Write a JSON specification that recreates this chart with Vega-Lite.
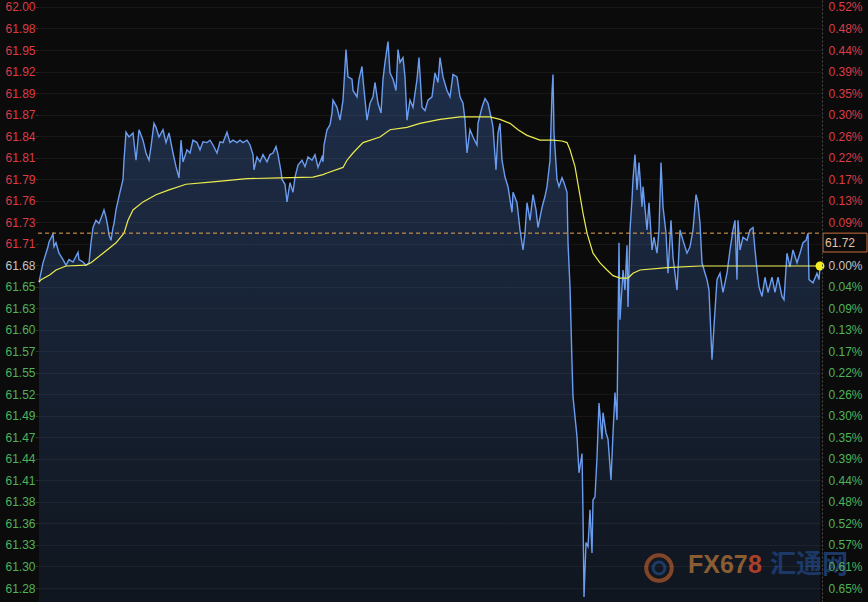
{
  "$schema": "https://vega.github.io/schema/vega-lite/v6.json",
  "width": 784,
  "height": 602,
  "autosize": {"type": "none"},
  "padding": {"left": 38, "right": 46, "top": 0, "bottom": 0},
  "background": "#0b0b0c",
  "config": {"view": {"stroke": null}, "font": "Liberation Sans"},
  "datasets": {
    "one": [{}],
    "price": [
      {"t":1,"p":61.659},{"t":5,"p":61.683},{"t":6,"p":61.687},{"t":10,"p":61.703},{"t":11,"p":61.709},{"t":15,"p":61.719},{"t":16,"p":61.703},{"t":18,"p":61.708},{"t":21,"p":61.695},{"t":25,"p":61.687},{"t":28,"p":61.680},{"t":31,"p":61.687},{"t":35,"p":61.684},{"t":40,"p":61.696},{"t":41,"p":61.687},{"t":45,"p":61.684},{"t":48,"p":61.680},{"t":51,"p":61.683},{"t":53,"p":61.708},{"t":55,"p":61.727},{"t":58,"p":61.736},{"t":61,"p":61.732},{"t":65,"p":61.745},{"t":66,"p":61.749},{"t":68,"p":61.740},{"t":70,"p":61.727},{"t":71,"p":61.718},{"t":73,"p":61.711},{"t":75,"p":61.727},{"t":76,"p":61.732},{"t":78,"p":61.749},{"t":81,"p":61.766},{"t":85,"p":61.787},{"t":86,"p":61.811},{"t":88,"p":61.846},{"t":91,"p":61.840},{"t":95,"p":61.845},{"t":98,"p":61.811},{"t":101,"p":61.849},{"t":105,"p":61.836},{"t":108,"p":61.820},{"t":111,"p":61.811},{"t":113,"p":61.828},{"t":116,"p":61.857},{"t":118,"p":61.852},{"t":121,"p":61.840},{"t":125,"p":61.849},{"t":128,"p":61.833},{"t":131,"p":61.845},{"t":135,"p":61.820},{"t":138,"p":61.803},{"t":141,"p":61.789},{"t":143,"p":61.836},{"t":145,"p":61.809},{"t":149,"p":61.824},{"t":152,"p":61.820},{"t":155,"p":61.836},{"t":159,"p":61.833},{"t":162,"p":61.824},{"t":165,"p":61.834},{"t":169,"p":61.833},{"t":172,"p":61.836},{"t":175,"p":61.830},{"t":179,"p":61.820},{"t":182,"p":61.834},{"t":185,"p":61.833},{"t":189,"p":61.846},{"t":192,"p":61.833},{"t":195,"p":61.836},{"t":199,"p":61.833},{"t":202,"p":61.836},{"t":205,"p":61.833},{"t":209,"p":61.836},{"t":212,"p":61.830},{"t":215,"p":61.818},{"t":216,"p":61.799},{"t":219,"p":61.815},{"t":222,"p":61.809},{"t":225,"p":61.818},{"t":229,"p":61.809},{"t":232,"p":61.818},{"t":235,"p":61.820},{"t":238,"p":61.828},{"t":240,"p":61.818},{"t":243,"p":61.797},{"t":244,"p":61.787},{"t":247,"p":61.781},{"t":249,"p":61.759},{"t":252,"p":61.783},{"t":255,"p":61.771},{"t":257,"p":61.790},{"t":260,"p":61.805},{"t":264,"p":61.811},{"t":267,"p":61.803},{"t":270,"p":61.815},{"t":274,"p":61.811},{"t":277,"p":61.818},{"t":280,"p":61.802},{"t":284,"p":61.815},{"t":285,"p":61.809},{"t":286,"p":61.830},{"t":289,"p":61.849},{"t":292,"p":61.855},{"t":294,"p":61.870},{"t":295,"p":61.886},{"t":299,"p":61.877},{"t":302,"p":61.861},{"t":305,"p":61.886},{"t":308,"p":61.949},{"t":310,"p":61.915},{"t":314,"p":61.912},{"t":315,"p":61.898},{"t":319,"p":61.890},{"t":321,"p":61.912},{"t":324,"p":61.928},{"t":325,"p":61.912},{"t":329,"p":61.861},{"t":332,"p":61.882},{"t":335,"p":61.890},{"t":337,"p":61.908},{"t":340,"p":61.882},{"t":343,"p":61.870},{"t":345,"p":61.912},{"t":347,"p":61.933},{"t":350,"p":61.959},{"t":352,"p":61.920},{"t":355,"p":61.912},{"t":358,"p":61.898},{"t":360,"p":61.949},{"t":362,"p":61.933},{"t":365,"p":61.939},{"t":367,"p":61.915},{"t":369,"p":61.861},{"t":372,"p":61.886},{"t":375,"p":61.877},{"t":379,"p":61.912},{"t":381,"p":61.939},{"t":384,"p":61.877},{"t":387,"p":61.873},{"t":390,"p":61.886},{"t":394,"p":61.890},{"t":397,"p":61.920},{"t":400,"p":61.908},{"t":402,"p":61.939},{"t":405,"p":61.915},{"t":409,"p":61.898},{"t":412,"p":61.890},{"t":415,"p":61.918},{"t":419,"p":61.915},{"t":422,"p":61.890},{"t":425,"p":61.882},{"t":427,"p":61.861},{"t":429,"p":61.820},{"t":432,"p":61.849},{"t":435,"p":61.840},{"t":439,"p":61.830},{"t":440,"p":61.857},{"t":444,"p":61.877},{"t":447,"p":61.888},{"t":450,"p":61.882},{"t":454,"p":61.859},{"t":455,"p":61.852},{"t":458,"p":61.799},{"t":460,"p":61.845},{"t":462,"p":61.857},{"t":464,"p":61.811},{"t":467,"p":61.790},{"t":470,"p":61.778},{"t":474,"p":61.746},{"t":475,"p":61.771},{"t":479,"p":61.758},{"t":482,"p":61.724},{"t":485,"p":61.699},{"t":487,"p":61.720},{"t":489,"p":61.758},{"t":492,"p":61.736},{"t":495,"p":61.768},{"t":498,"p":61.749},{"t":500,"p":61.727},{"t":504,"p":61.752},{"t":507,"p":61.766},{"t":509,"p":61.778},{"t":512,"p":61.811},{"t":514,"p":61.895},{"t":515,"p":61.918},{"t":516,"p":61.845},{"t":519,"p":61.787},{"t":521,"p":61.778},{"t":524,"p":61.789},{"t":526,"p":61.783},{"t":529,"p":61.771},{"t":530,"p":61.708},{"t":532,"p":61.653},{"t":534,"p":61.558},{"t":535,"p":61.516},{"t":539,"p":61.466},{"t":541,"p":61.421},{"t":544,"p":61.445},{"t":545,"p":61.371},{"t":546,"p":61.266},{"t":548,"p":61.334},{"t":550,"p":61.329},{"t":552,"p":61.375},{"t":554,"p":61.321},{"t":555,"p":61.387},{"t":557,"p":61.391},{"t":559,"p":61.440},{"t":561,"p":61.508},{"t":564,"p":61.463},{"t":565,"p":61.496},{"t":568,"p":61.471},{"t":570,"p":61.463},{"t":573,"p":61.412},{"t":575,"p":61.470},{"t":577,"p":61.521},{"t":579,"p":61.487},{"t":580,"p":61.600},{"t":581,"p":61.708},{"t":582,"p":61.612},{"t":584,"p":61.653},{"t":585,"p":61.674},{"t":587,"p":61.649},{"t":589,"p":61.705},{"t":590,"p":61.628},{"t":592,"p":61.724},{"t":594,"p":61.762},{"t":595,"p":61.787},{"t":597,"p":61.818},{"t":599,"p":61.774},{"t":601,"p":61.808},{"t":604,"p":61.753},{"t":605,"p":61.778},{"t":609,"p":61.724},{"t":611,"p":61.758},{"t":614,"p":61.699},{"t":616,"p":61.715},{"t":619,"p":61.695},{"t":621,"p":61.724},{"t":623,"p":61.808},{"t":625,"p":61.753},{"t":628,"p":61.720},{"t":630,"p":61.670},{"t":633,"p":61.736},{"t":635,"p":61.690},{"t":639,"p":61.649},{"t":642,"p":61.724},{"t":645,"p":61.711},{"t":649,"p":61.695},{"t":652,"p":61.703},{"t":655,"p":61.724},{"t":658,"p":61.768},{"t":660,"p":61.758},{"t":662,"p":61.732},{"t":664,"p":61.683},{"t":667,"p":61.670},{"t":669,"p":61.662},{"t":671,"p":61.649},{"t":674,"p":61.562},{"t":676,"p":61.604},{"t":679,"p":61.662},{"t":682,"p":61.670},{"t":685,"p":61.646},{"t":689,"p":61.670},{"t":692,"p":61.699},{"t":695,"p":61.724},{"t":697,"p":61.736},{"t":699,"p":61.662},{"t":700,"p":61.736},{"t":702,"p":61.699},{"t":705,"p":61.715},{"t":709,"p":61.711},{"t":712,"p":61.724},{"t":715,"p":61.727},{"t":717,"p":61.699},{"t":719,"p":61.674},{"t":721,"p":61.653},{"t":724,"p":61.641},{"t":727,"p":61.665},{"t":730,"p":61.646},{"t":734,"p":61.665},{"t":737,"p":61.646},{"t":740,"p":61.665},{"t":744,"p":61.641},{"t":746,"p":61.637},{"t":749,"p":61.695},{"t":752,"p":61.678},{"t":755,"p":61.699},{"t":759,"p":61.683},{"t":762,"p":61.695},{"t":765,"p":61.708},{"t":768,"p":61.711},{"t":770,"p":61.720},{"t":771,"p":61.662},{"t":775,"p":61.658},{"t":779,"p":61.670},{"t":781,"p":61.662},{"t":782,"p":61.677}
    ],
    "avg": [
      {"t":1,"p":61.659},{"t":3,"p":61.662},{"t":12,"p":61.668},{"t":18,"p":61.674},{"t":28,"p":61.679},{"t":48,"p":61.680},{"t":53,"p":61.683},{"t":65,"p":61.695},{"t":78,"p":61.708},{"t":86,"p":61.720},{"t":90,"p":61.736},{"t":95,"p":61.749},{"t":105,"p":61.759},{"t":118,"p":61.768},{"t":131,"p":61.774},{"t":148,"p":61.781},{"t":175,"p":61.784},{"t":209,"p":61.788},{"t":242,"p":61.789},{"t":275,"p":61.790},{"t":285,"p":61.793},{"t":289,"p":61.795},{"t":305,"p":61.802},{"t":309,"p":61.811},{"t":315,"p":61.820},{"t":325,"p":61.833},{"t":342,"p":61.840},{"t":352,"p":61.849},{"t":369,"p":61.852},{"t":382,"p":61.857},{"t":402,"p":61.862},{"t":422,"p":61.865},{"t":452,"p":61.865},{"t":462,"p":61.862},{"t":472,"p":61.857},{"t":480,"p":61.849},{"t":489,"p":61.842},{"t":502,"p":61.836},{"t":515,"p":61.836},{"t":524,"p":61.835},{"t":529,"p":61.833},{"t":532,"p":61.824},{"t":537,"p":61.803},{"t":541,"p":61.774},{"t":545,"p":61.745},{"t":549,"p":61.720},{"t":555,"p":61.695},{"t":562,"p":61.683},{"t":569,"p":61.674},{"t":575,"p":61.667},{"t":582,"p":61.664},{"t":590,"p":61.664},{"t":595,"p":61.670},{"t":602,"p":61.674},{"t":629,"p":61.677},{"t":662,"p":61.679},{"t":722,"p":61.679},{"t":782,"p":61.679}
    ]
  },
  "layer": [
    {
      "data": {"name": "price"},
      "mark": {"type": "area", "fill": {"gradient": "linear", "x1": 0, "y1": 0, "x2": 0, "y2": 1, "stops": [{"offset": 0, "color": "#1f2f4b"}, {"offset": 1, "color": "#10161f"}]}},
      "encoding": {
        "x": {"field": "t", "type": "quantitative", "scale": {"domain": [0, 784], "nice": false, "zero": false},
              "axis": {"values": [102, 205, 307, 409, 512, 615, 717], "grid": true, "gridColor": "#ffffff", "gridOpacity": 0.05, "labels": false, "ticks": false, "domain": false, "title": null, "zindex": 1}},
        "y": {"field": "p", "type": "quantitative", "scale": {"domain": [61.2598, 62.0109], "nice": false, "zero": false},
              "axis": {"orient": "left", "title": null,
                "values": [62.0022, 61.97535, 61.9485, 61.92165, 61.8948, 61.86795, 61.8411, 61.81425, 61.7874, 61.76055, 61.7337, 61.70685, 61.68, 61.65315, 61.6263, 61.59945, 61.5726, 61.54575, 61.5189, 61.49205, 61.4652, 61.43835, 61.4115, 61.38465, 61.3578, 61.33095, 61.3041, 61.27725],
                "format": ".2f",
                "labelColor": {"condition": [{"test": "datum.value > 61.69", "value": "#dc3c46"}, {"test": "datum.value < 61.67", "value": "#4fb35a"}], "value": "#c4c4c4"},
                "labelFont": "Liberation Sans", "labelFontSize": 12, "labelPadding": 0, "labelAlign": "right", "labelBaseline": "middle",
                "tickSize": 3, "tickColor": "#2a2d33", "domain": false,
                "grid": true, "gridColor": "#ffffff", "gridOpacity": 0.05,
                "labelOverlap": false, "labelFlush": false, "labelBound": false, "zindex": 1}},
        "y2": {"datum": 61.2598}
      }
    },
    {
      "data": {"name": "price"},
      "mark": {"type": "line", "color": "#6a9cf0", "strokeWidth": 1.4, "interpolate": "linear"},
      "encoding": {
        "x": {"field": "t", "type": "quantitative", "scale": {"domain": [0, 784], "nice": false, "zero": false}, "axis": null},
        "y": {"field": "p", "type": "quantitative", "scale": {"domain": [61.2598, 62.0109], "nice": false, "zero": false},
              "axis": {"orient": "right", "title": null,
                "values": [62.0022, 61.97535, 61.9485, 61.92165, 61.8948, 61.86795, 61.8411, 61.81425, 61.7874, 61.76055, 61.7337, 61.68, 61.65315, 61.6263, 61.59945, 61.5726, 61.54575, 61.5189, 61.49205, 61.4652, 61.43835, 61.4115, 61.38465, 61.3578, 61.33095, 61.3041, 61.27725],
                "labelExpr": "format(abs(datum.value - 61.68) / 61.68 * 100, '.2f') + '%'",
                "labelColor": {"condition": [{"test": "datum.value > 61.69", "value": "#dc3c46"}, {"test": "datum.value < 61.67", "value": "#4fb35a"}], "value": "#c4c4c4"},
                "labelFont": "Liberation Sans", "labelFontSize": 12, "labelPadding": 6, "labelAlign": "left", "labelBaseline": "middle",
                "ticks": false, "tickSize": 0, "domain": true, "domainColor": "#4a4a4a", "domainDash": [2, 2],
                "grid": false, "labelOverlap": false, "labelFlush": false, "labelBound": false, "zindex": 1}}
      }
    },
    {
      "data": {"name": "avg"},
      "mark": {"type": "line", "color": "#ecec4e", "strokeWidth": 1.2},
      "encoding": {
        "x": {"field": "t", "type": "quantitative", "scale": {"domain": [0, 784], "nice": false, "zero": false}, "axis": null},
        "y": {"field": "p", "type": "quantitative", "scale": {"domain": [61.2598, 62.0109], "nice": false, "zero": false}, "axis": null}
      }
    },
    {
      "data": {"name": "one"},
      "mark": {"type": "rule", "color": "#e8a552", "strokeWidth": 1, "strokeDash": [4, 3]},
      "encoding": {
        "x": {"datum": 0, "type": "quantitative", "scale": {"domain": [0, 784], "nice": false, "zero": false}, "axis": null},
        "x2": {"datum": 784},
        "y": {"datum": 61.72, "type": "quantitative", "scale": {"domain": [61.2598, 62.0109], "nice": false, "zero": false}, "axis": null}
      }
    },
    {
      "data": {"name": "one"},
      "mark": {"type": "point", "shape": "circle", "filled": true, "color": "#f5ef1e", "opacity": 1, "size": 80},
      "encoding": {
        "x": {"datum": 782, "type": "quantitative", "scale": {"domain": [0, 784], "nice": false, "zero": false}, "axis": null},
        "y": {"datum": 61.679, "type": "quantitative", "scale": {"domain": [61.2598, 62.0109], "nice": false, "zero": false}, "axis": null}
      }
    },
    {
      "data": {"name": "one"},
      "mark": {"type": "rect", "fill": "#0b0b0c", "stroke": "#c8703c", "strokeWidth": 1},
      "encoding": {
        "x": {"datum": 785, "type": "quantitative", "scale": {"domain": [0, 784], "nice": false, "zero": false}, "axis": null},
        "x2": {"datum": 829},
        "y": {"datum": 61.72, "type": "quantitative", "scale": {"domain": [61.2598, 62.0109], "nice": false, "zero": false}, "axis": null},
        "y2": {"datum": 61.6965}
      }
    },
    {
      "data": {"name": "one"},
      "mark": {"type": "text", "text": "61.72", "align": "left", "baseline": "middle", "font": "Liberation Sans", "fontSize": 12, "color": "#e6c2a0"},
      "encoding": {
        "x": {"datum": 787, "type": "quantitative", "scale": {"domain": [0, 784], "nice": false, "zero": false}, "axis": null},
        "y": {"datum": 61.708, "type": "quantitative", "scale": {"domain": [61.2598, 62.0109], "nice": false, "zero": false}, "axis": null}
      }
    },
    {
      "data": {"name": "one"},
      "mark": {"type": "point", "shape": "circle", "filled": false, "stroke": "#a8552a", "strokeWidth": 4, "size": 650, "opacity": 0.75},
      "encoding": {
        "x": {"datum": 621, "type": "quantitative", "scale": {"domain": [0, 784], "nice": false, "zero": false}, "axis": null},
        "y": {"datum": 61.3022, "type": "quantitative", "scale": {"domain": [61.2598, 62.0109], "nice": false, "zero": false}, "axis": null}
      }
    },
    {
      "data": {"name": "one"},
      "mark": {"type": "point", "shape": "circle", "filled": false, "stroke": "#24467a", "strokeWidth": 3, "size": 140, "opacity": 0.75},
      "encoding": {
        "x": {"datum": 621, "type": "quantitative", "scale": {"domain": [0, 784], "nice": false, "zero": false}, "axis": null},
        "y": {"datum": 61.3022, "type": "quantitative", "scale": {"domain": [61.2598, 62.0109], "nice": false, "zero": false}, "axis": null}
      }
    },
    {
      "data": {"name": "one"},
      "mark": {"type": "text", "text": "FX67", "align": "left", "baseline": "middle", "font": "Liberation Sans", "fontSize": 25, "fontWeight": "bold", "color": "#8a5c32"},
      "encoding": {
        "x": {"datum": 650, "type": "quantitative", "scale": {"domain": [0, 784], "nice": false, "zero": false}, "axis": null},
        "y": {"datum": 61.306, "type": "quantitative", "scale": {"domain": [61.2598, 62.0109], "nice": false, "zero": false}, "axis": null}
      }
    },
    {
      "data": {"name": "one"},
      "mark": {"type": "text", "text": "8", "align": "left", "baseline": "middle", "font": "Liberation Sans", "fontSize": 25, "fontWeight": "bold", "color": "#a83f28"},
      "encoding": {
        "x": {"datum": 710, "type": "quantitative", "scale": {"domain": [0, 784], "nice": false, "zero": false}, "axis": null},
        "y": {"datum": 61.306, "type": "quantitative", "scale": {"domain": [61.2598, 62.0109], "nice": false, "zero": false}, "axis": null}
      }
    },
    {
      "data": {"name": "one"},
      "mark": {"type": "text", "text": "汇通网", "align": "left", "baseline": "middle", "font": "Noto Sans CJK SC", "fontSize": 26, "fontWeight": "bold", "color": "#1b3866"},
      "encoding": {
        "x": {"datum": 732, "type": "quantitative", "scale": {"domain": [0, 784], "nice": false, "zero": false}, "axis": null},
        "y": {"datum": 61.306, "type": "quantitative", "scale": {"domain": [61.2598, 62.0109], "nice": false, "zero": false}, "axis": null}
      }
    }
  ],
  "resolve": {"axis": {"y": "independent"}}
}
